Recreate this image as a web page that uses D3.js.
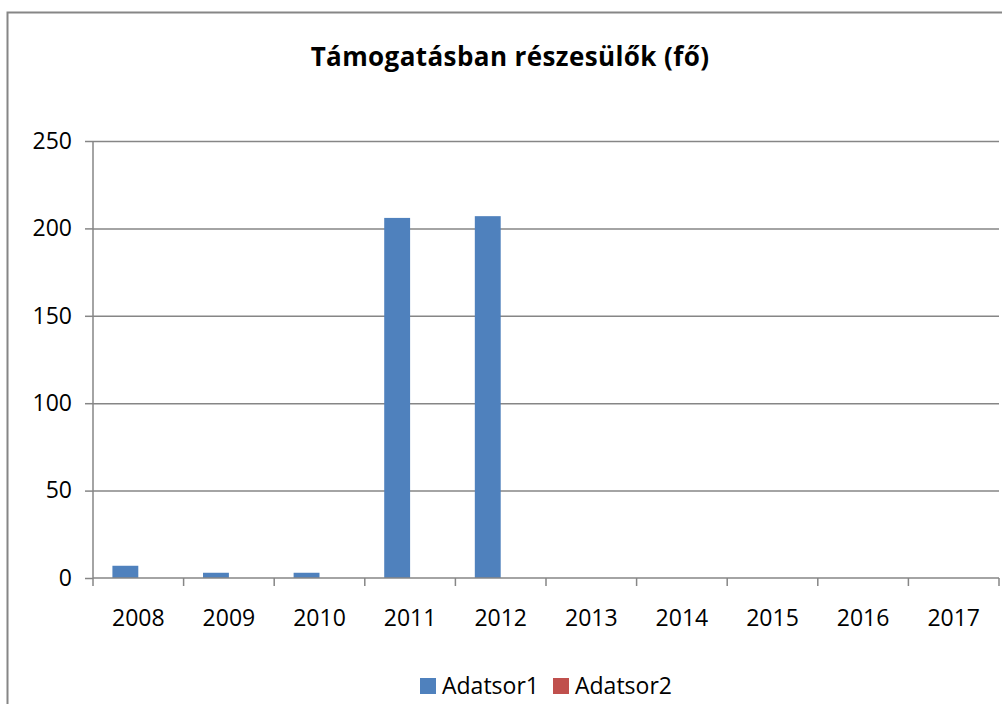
<!DOCTYPE html>
<html><head><meta charset="utf-8">
<script src="https://cdnjs.cloudflare.com/ajax/libs/d3/7.8.5/d3.min.js"></script>
<style>body{margin:0;background:#fff}svg{display:block;font-family:"Open Sans",sans-serif}</style>
</head><body><svg id="c" width="1002" height="704"></svg>
<script>
const categories = ["2008","2009","2010","2011","2012","2013","2014","2015","2016","2017"];
const series1 = [7,3,3,206,207,0,0,0,0,0];
const series2 = [0,0,0,0,0,0,0,0,0,0];
const seriesNames = ["Adatsor1","Adatsor2"];
const colors = ["#4F81BD","#C0504D"];
const yTicks = [0,50,100,150,200,250];
const title = "Támogatásban részesülők (fő)";

const svg = d3.select("#c");
svg.append("rect").attr("x",7.5).attr("y",12.5).attr("width",1010).attr("height",710)
  .attr("fill","#fff").attr("stroke","#868686").attr("stroke-width",2);

const L=93, R=999, T=141, B=578;
const x = d3.scaleBand().domain(categories).range([L,R]);
const y = d3.scaleLinear().domain([0,250]).range([B,T]);
const w = x.bandwidth()/3.5;
const xs = d3.scaleBand().domain([0,1]).range([0.75*w, 2.75*w]);

svg.append("text").attr("x",510).attr("y",66).attr("text-anchor","middle")
  .attr("font-weight","bold").attr("font-size",26).attr("letter-spacing",0.4).text(title);

const g = svg.append("g");
g.selectAll(".grid").data(yTicks.filter(d=>d>0)).join("line")
  .attr("x1",L).attr("x2",R).attr("y1",d=>y(d)+0.5).attr("y2",d=>y(d)+0.5)
  .attr("stroke","#868686").attr("stroke-width",1.5);

const data = [series1, series2];
data.forEach((s,i)=>{
  g.selectAll(".b"+i).data(s.map((v,j)=>({c:categories[j],v}))).join("rect")
    .attr("x",d=>x(d.c)+xs(i)).attr("width",w)
    .attr("y",d=>y(d.v)).attr("height",d=>B-y(d.v))
    .attr("fill",colors[i]);
});

const ya = svg.append("g").attr("transform",`translate(${L},0)`)
  .call(d3.axisLeft(y).tickValues(yTicks).tickSize(8).tickPadding(13));
ya.select(".domain").attr("stroke","#868686").attr("stroke-width",1.5).attr("d",`M0,${T}V${B}`);
ya.selectAll(".tick line").attr("stroke","#868686").attr("stroke-width",1.5);
ya.selectAll("text").attr("font-size",23).attr("fill","#000").attr("font-family","Open Sans");

const xa = svg.append("g").attr("transform",`translate(0,${B})`)
  .call(d3.axisBottom(x).tickSize(0).tickPadding(32));
xa.select(".domain").attr("stroke","#868686").attr("stroke-width",1.5).attr("d",`M${L},0H${R}`);
xa.selectAll("text").attr("font-size",23).attr("fill","#000").attr("font-family","Open Sans");
const edges = categories.map(c=>x(c)).concat([R]);
xa.selectAll(".edge").data(edges).join("line")
  .attr("x1",d=>d).attr("x2",d=>d).attr("y1",0).attr("y2",8)
  .attr("stroke","#868686").attr("stroke-width",1.5);

const leg = svg.append("g");
const lx = [420, 553];
seriesNames.forEach((n,i)=>{
  leg.append("rect").attr("x",lx[i]).attr("y",678).attr("width",16).attr("height",16).attr("fill",colors[i]);
  leg.append("text").attr("x",lx[i]+22).attr("y",694).attr("font-size",23).text(n);
});
</script></body></html>
